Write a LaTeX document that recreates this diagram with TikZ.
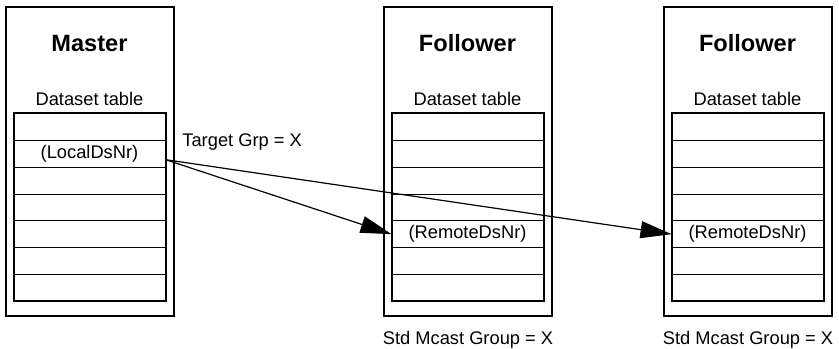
\documentclass[tikz,border=0pt]{standalone}
\usepackage{fontspec}
\setmainfont{Liberation Sans}
\usetikzlibrary{arrows.meta,positioning}

\tikzset{
  unitbox/.style={draw, line width=1pt, minimum width=84pt, minimum height=154.5pt, inner sep=0pt},
  rowbox/.style={draw, line width=0.5pt, minimum width=75.5pt, minimum height=13.36pt, inner sep=0pt,
    font=\fontsize{9.15}{11}\selectfont},
  titletext/.style={font=\fontsize{11.8}{14}\selectfont\bfseries, inner sep=0pt},
  plaintext/.style={font=\fontsize{9.15}{11}\selectfont, inner sep=0pt},
  sendarrow/.style={-{Triangle[length=15.5pt,width=8.5pt]}, line width=0.6pt}
}

\begin{document}
\begin{tikzpicture}[x=0.5pt,y=-0.5pt]
\useasboundingbox (0,0) rectangle (839,348);
% one master, two followers, each with its dataset table
\foreach \u/\cx/\title/\r/\txt in {m/89.5/Master/2/(LocalDsNr), f/467.5/Follower/5/(RemoteDsNr), g/747.5/Follower/5/(RemoteDsNr)} {
  \node[unitbox] (\u box) at (\cx,161.5) {};
  \node[titletext] (\u title) at (\cx,43) {\title};
  \node[plaintext] (\u label) at (\cx,99) {Dataset table};
  \foreach \k in {1,...,7}
    \node[rowbox] (\u\k) at (\cx,{114+26.71*(\k-0.5)}) {\ifnum\k=\r\relax\txt\fi};
  \draw[line width=1pt] (\u1.north west) rectangle (\u7.south east);
}
\node[plaintext] (fgroup) at (468,340) {Std Mcast Group = X};
\node[plaintext] (ggroup) at (748,340) {Std Mcast Group = X};
\node[plaintext, anchor=west] (target) at (182,142) {Target Grp = X};
% multicast from the master to both followers
\coordinate (send) at ([yshift=-2.8pt]m2.east);
\draw[sendarrow] (send) -- (f5.west);
\draw[sendarrow] (send) -- (g5.west);
\end{tikzpicture}
\end{document}
